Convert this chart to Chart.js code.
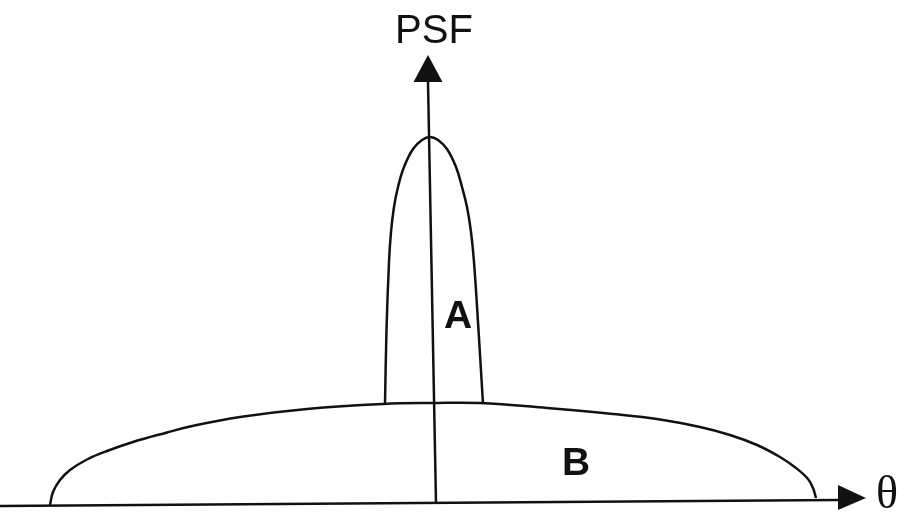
<!DOCTYPE html>
<html>
<head>
<meta charset="utf-8">
<title>PSF</title>
<script src="https://cdn.jsdelivr.net/npm/chart.js@4.4.0/dist/chart.umd.min.js"></script>
<style>
    html, body { margin: 0; padding: 0; background: #ffffff; }
    #chartBox { position: relative; width: 904px; height: 512px; }
</style>
</head>
<body>
<div id="chartBox"><canvas id="psfChart"></canvas></div>
<script>
// Narrow peak (A) - theta / PSF pairs, arbitrary units
const curveATheta = [-47, -45.5, -43, -41, -38, -34, -28, -19, -10, -2, 6, 15, 24, 30, 35, 39, 42, 46.5, 51];
const curveAPsf = [98, 172, 240, 270, 295, 315, 335, 353, 362, 365, 362, 353, 335, 315, 295, 270, 240, 172, 98];

// Wide halo (B)
const curveBTheta = [-382, -379, -372, -362, -345, -325, -299, -265, -242, -192, -125, -49, 0, 48, 115, 181, 228, 268, 298, 325, 348, 364, 376, 381, 384];
const curveBPsf = [-3, 10, 22, 32, 42.5, 51, 60, 69.5, 75.5, 85, 93, 98, 99, 99, 94, 88, 82.5, 75, 67, 57, 45, 34, 23, 14, 4];

// Axes (start, end)
const thetaAxisTheta = [-432, 406];
const thetaAxisPsf = [-4, 2];
const psfAxisTheta = [4, -4];
const psfAxisPsf = [-1, 420];

const toPoints = (xs, ys) => xs.map((x, i) => ({ x: x, y: ys[i] }));

document.addEventListener("DOMContentLoaded", function () {
    const ctx = document.getElementById('psfChart');
    if (!ctx) return;

    const ink = '#111111';

    // draws arrow heads and the text labels in data coordinates
    const annotate = {
        id: 'annotate',
        afterDatasetsDraw(chart) {
            const c = chart.ctx;
            const sx = chart.scales.x, sy = chart.scales.y;
            const px = v => sx.getPixelForValue(v);
            const py = v => sy.getPixelForValue(v);

            c.save();
            c.fillStyle = ink;

            // up arrow on PSF axis
            c.beginPath();
            c.moveTo(px(-4), py(447));
            c.lineTo(px(-18.5), py(420));
            c.lineTo(px(10.5), py(420));
            c.closePath();
            c.fill();

            // right arrow on theta axis
            c.beginPath();
            c.moveTo(px(434), py(4));
            c.lineTo(px(406), py(17));
            c.lineTo(px(406), py(-8));
            c.closePath();
            c.fill();

            c.textAlign = 'center';
            c.textBaseline = 'alphabetic';
            c.font = '40px "Liberation Sans", Arial, sans-serif';
            c.fillText('PSF', px(2), py(459));

            c.font = 'bold 39px "Liberation Sans", Arial, sans-serif';
            c.fillText('A', px(26), py(174));
            c.fillText('B', px(144), py(27));

            c.font = '46px "Liberation Serif", "Times New Roman", serif';
            c.fillText('θ', px(455), py(-6));
            c.restore();
        }
    };

    new Chart(ctx, {
        type: 'scatter',
        data: {
            datasets: [
                {
                    label: 'A',
                    data: toPoints(curveATheta, curveAPsf),
                    showLine: true,
                    borderColor: ink,
                    borderWidth: 2.5,
                    pointRadius: 0,
                    tension: 0.4
                },
                {
                    label: 'B',
                    data: toPoints(curveBTheta, curveBPsf),
                    showLine: true,
                    borderColor: ink,
                    borderWidth: 2.5,
                    pointRadius: 0,
                    tension: 0.4
                },
                {
                    label: 'theta axis',
                    data: toPoints(thetaAxisTheta, thetaAxisPsf),
                    showLine: true,
                    borderColor: ink,
                    borderWidth: 2.5,
                    pointRadius: 0
                },
                {
                    label: 'PSF axis',
                    data: toPoints(psfAxisTheta, psfAxisPsf),
                    showLine: true,
                    borderColor: ink,
                    borderWidth: 2.5,
                    pointRadius: 0
                }
            ]
        },
        options: {
            responsive: true,
            maintainAspectRatio: false,
            animation: false,
            layout: { padding: 0 },
            scales: {
                x: { type: 'linear', min: -432, max: 472, display: false },
                y: { type: 'linear', min: -10, max: 502, display: false }
            },
            plugins: {
                legend: { display: false },
                tooltip: { enabled: false }
            }
        },
        plugins: [annotate]
    });
});
</script>
</body>
</html>
